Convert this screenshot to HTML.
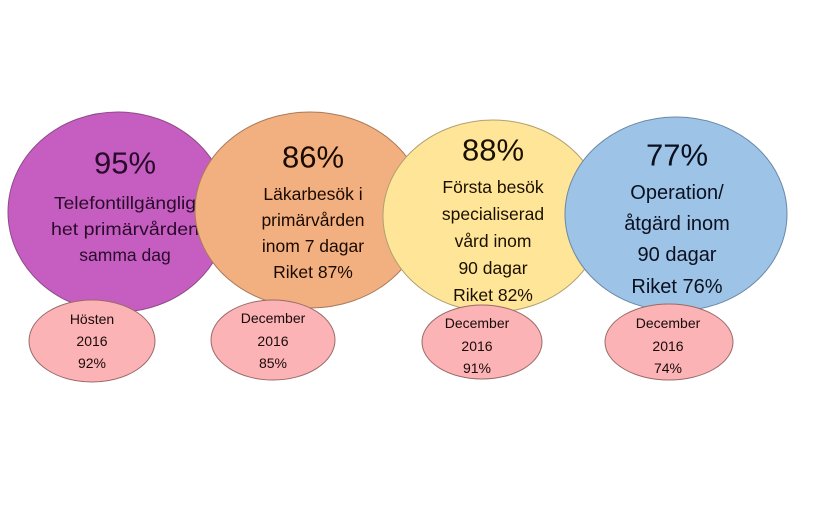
<!DOCTYPE html>
<html><head><meta charset="utf-8"><style>
html,body{margin:0;padding:0;background:#fff;}
svg{display:block;font-family:"Liberation Sans",sans-serif;}
</style></head><body>
<svg width="836" height="508" viewBox="0 0 836 508">
<g>
<ellipse cx="118" cy="212" rx="110" ry="100" fill="#c55ec0" stroke="#8e4a8a" stroke-width="1"/>
<text x="125" y="163" font-size="31" text-anchor="middle" dominant-baseline="central" fill="#2a0a2a">95%</text>
<g font-size="17.5" text-anchor="middle" fill="#2a0a2a">
<text x="125" y="203" dominant-baseline="central" textLength="142" lengthAdjust="spacingAndGlyphs">Telefontillgänglig</text>
<text x="125" y="229" dominant-baseline="central" textLength="148" lengthAdjust="spacingAndGlyphs">het primärvården</text>
<text x="125" y="255" dominant-baseline="central">samma dag</text>
</g></g>
<g>
<ellipse cx="310" cy="210" rx="115" ry="98" fill="#f2b080" stroke="#a87a5a" stroke-width="1"/>
<text x="313" y="157" font-size="31" text-anchor="middle" dominant-baseline="central" fill="#1a0a00">86%</text>
<g font-size="17.5" text-anchor="middle" fill="#1a0a00">
<text x="313" y="194" dominant-baseline="central">Läkarbesök i</text>
<text x="313" y="220" dominant-baseline="central">primärvården</text>
<text x="313" y="246" dominant-baseline="central">inom 7 dagar</text>
<text x="313" y="272" dominant-baseline="central">Riket 87%</text>
</g></g>
<g>
<ellipse cx="493" cy="216" rx="110" ry="96" fill="#ffe598" stroke="#b0a070" stroke-width="1"/>
<text x="493" y="150" font-size="31" text-anchor="middle" dominant-baseline="central" fill="#1a1000">88%</text>
<g font-size="17.5" text-anchor="middle" fill="#1a1000">
<text x="493" y="187" dominant-baseline="central">Första besök</text>
<text x="493" y="214" dominant-baseline="central">specialiserad</text>
<text x="493" y="241" dominant-baseline="central">vård inom</text>
<text x="493" y="268" dominant-baseline="central">90 dagar</text>
<text x="493" y="295" dominant-baseline="central">Riket 82%</text>
</g></g>
<g>
<ellipse cx="676" cy="214" rx="111" ry="97" fill="#9dc3e6" stroke="#6a88a8" stroke-width="1"/>
<text x="677" y="155" font-size="31" text-anchor="middle" dominant-baseline="central" fill="#0a1020">77%</text>
<g font-size="20" text-anchor="middle" fill="#0a1020">
<text x="677" y="193" dominant-baseline="central">Operation/</text>
<text x="677" y="224" dominant-baseline="central">åtgärd inom</text>
<text x="677" y="255" dominant-baseline="central">90 dagar</text>
<text x="677" y="287" dominant-baseline="central">Riket 76%</text>
</g></g>
<g>
<ellipse cx="92" cy="341" rx="63" ry="41" fill="#fbb3b5" stroke="#9a6a6a" stroke-width="1"/>
<g font-size="14" text-anchor="middle" fill="#1a0a0a">
<text x="92" y="319" dominant-baseline="central">Hösten</text>
<text x="92" y="341" dominant-baseline="central">2016</text>
<text x="92" y="363" dominant-baseline="central">92%</text></g></g>
<g>
<ellipse cx="273" cy="340" rx="62" ry="40" fill="#fbb3b5" stroke="#9a6a6a" stroke-width="1"/>
<g font-size="14" text-anchor="middle" fill="#1a0a0a">
<text x="273" y="318" dominant-baseline="central">December</text>
<text x="273" y="341" dominant-baseline="central">2016</text>
<text x="273" y="363" dominant-baseline="central">85%</text></g></g>
<g>
<ellipse cx="482" cy="342" rx="60" ry="37" fill="#fbb3b5" stroke="#9a6a6a" stroke-width="1"/>
<g font-size="14" text-anchor="middle" fill="#1a0a0a">
<text x="477" y="323" dominant-baseline="central">December</text>
<text x="477" y="346" dominant-baseline="central">2016</text>
<text x="477" y="368" dominant-baseline="central">91%</text></g></g>
<g>
<ellipse cx="669" cy="342" rx="64" ry="38" fill="#fbb3b5" stroke="#9a6a6a" stroke-width="1"/>
<g font-size="14" text-anchor="middle" fill="#1a0a0a">
<text x="668" y="323" dominant-baseline="central">December</text>
<text x="668" y="346" dominant-baseline="central">2016</text>
<text x="668" y="368" dominant-baseline="central">74%</text></g></g>
</svg>
</body></html>
